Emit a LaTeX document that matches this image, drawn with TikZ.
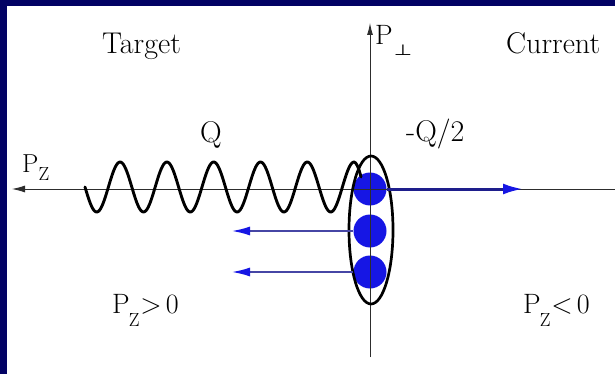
\documentclass[tikz,border=0pt]{standalone}
\usepackage{fontspec}
\usepackage{graphicx}
\newfontfamily\symf{DejaVu Sans}
\usetikzlibrary{arrows.meta,shapes.geometric}
\definecolor{framecol}{RGB}{2,2,100}
\definecolor{ballcol}{RGB}{22,22,228}
\definecolor{blinecol}{RGB}{30,30,140}
\definecolor{thinbcol}{RGB}{70,70,165}
\definecolor{axiscol}{RGB}{45,45,45}
\newcommand{\pzlabel}[1]{P\kern-1pt\raisebox{-13pt}{\fontsize{19}{19}\selectfont Z}\kern1pt#1\kern4pt0}
\begin{document}
\begin{tikzpicture}[x=1pt,y=-1pt,
  lbl/.style={inner sep=0pt, anchor=base west, font=\fontsize{30}{34}\selectfont},
  axisline/.style={draw=axiscol, line width=0.9pt},
  ballnode/.style={circle, fill=ballcol, inner sep=0pt, minimum size=33pt},
  thickblue/.style={draw=blinecol, line width=3pt, -{Latex[length=20pt,width=11pt,color=ballcol]}},
  thinblue/.style={draw=thinbcol, line width=1.5pt, -{Latex[length=18pt,width=9pt,color=ballcol]}},
  wave/.style={draw=black, line width=2.9pt, line join=round, line cap=round},
  bag/.style={draw=black, ellipse, line width=2.7pt, inner sep=0pt, minimum width=44pt, minimum height=148pt}]
\fill[framecol] (0,0) rectangle (615,374);
\fill[white] (7,6) rectangle (615,374);
\useasboundingbox (0,0) rectangle (615,374);
% balls
\node[ballnode] (c1) at (370,189) {};
\node[ballnode] (c2) at (370,231) {};
\node[ballnode] (c3) at (370,272) {};
% axes
\coordinate (xr) at (615,189);
\coordinate (xl) at (12,189);
\coordinate (yb) at (370,357);
\coordinate (yt) at (370,23);
\draw[axisline, -{Latex[length=13pt,width=7pt]}] (xr) -- (xl);
\draw[axisline, -{Latex[length=12pt,width=6pt]}] (yb) -- (yt);
% bag ellipse
\node[bag] (e) at (371,230) {};
% arrows
\coordinate (rt) at (523,189);
\coordinate (l2) at (232,231);
\coordinate (l3) at (232,272);
\draw[thickblue] (c1.east) -- (rt);
\draw[thinblue] (c2.west) -- (l2);
\draw[thinblue] (c3.west) -- (l3);
% wave
\draw[wave] plot[domain=85:354.1, samples=240] (\x, {187+25*sin(7.6923*(\x-85))})
  .. controls (356,162) and (358.5,167) .. (361,177);
% labels
\node[lbl] (target) at (102,54) {Target};
\node[lbl] (current) at (506,54) {Current};
\node[lbl, font=\fontsize{28}{32}\selectfont] (pperp) at (375,45) {P\kern1pt\raisebox{-11pt}{\scalebox{1.4}[1]{\symf\fontsize{15}{15}\selectfont ⊥}}};
\node[lbl] (q) at (200,143) {Q};
\node[lbl] (mq) at (406,142) {-Q/2};
\node[lbl, font=\fontsize{26}{30}\selectfont] (pz) at (22,172) {P\raisebox{-8pt}{\fontsize{19}{19}\selectfont Z}};
\node[lbl, font=\fontsize{28}{32}\selectfont] (pzpos) at (112,313) {\pzlabel{>}};
\node[lbl, font=\fontsize{28}{32}\selectfont] (pzneg) at (523,313) {\pzlabel{<}};
\end{tikzpicture}
\end{document}
